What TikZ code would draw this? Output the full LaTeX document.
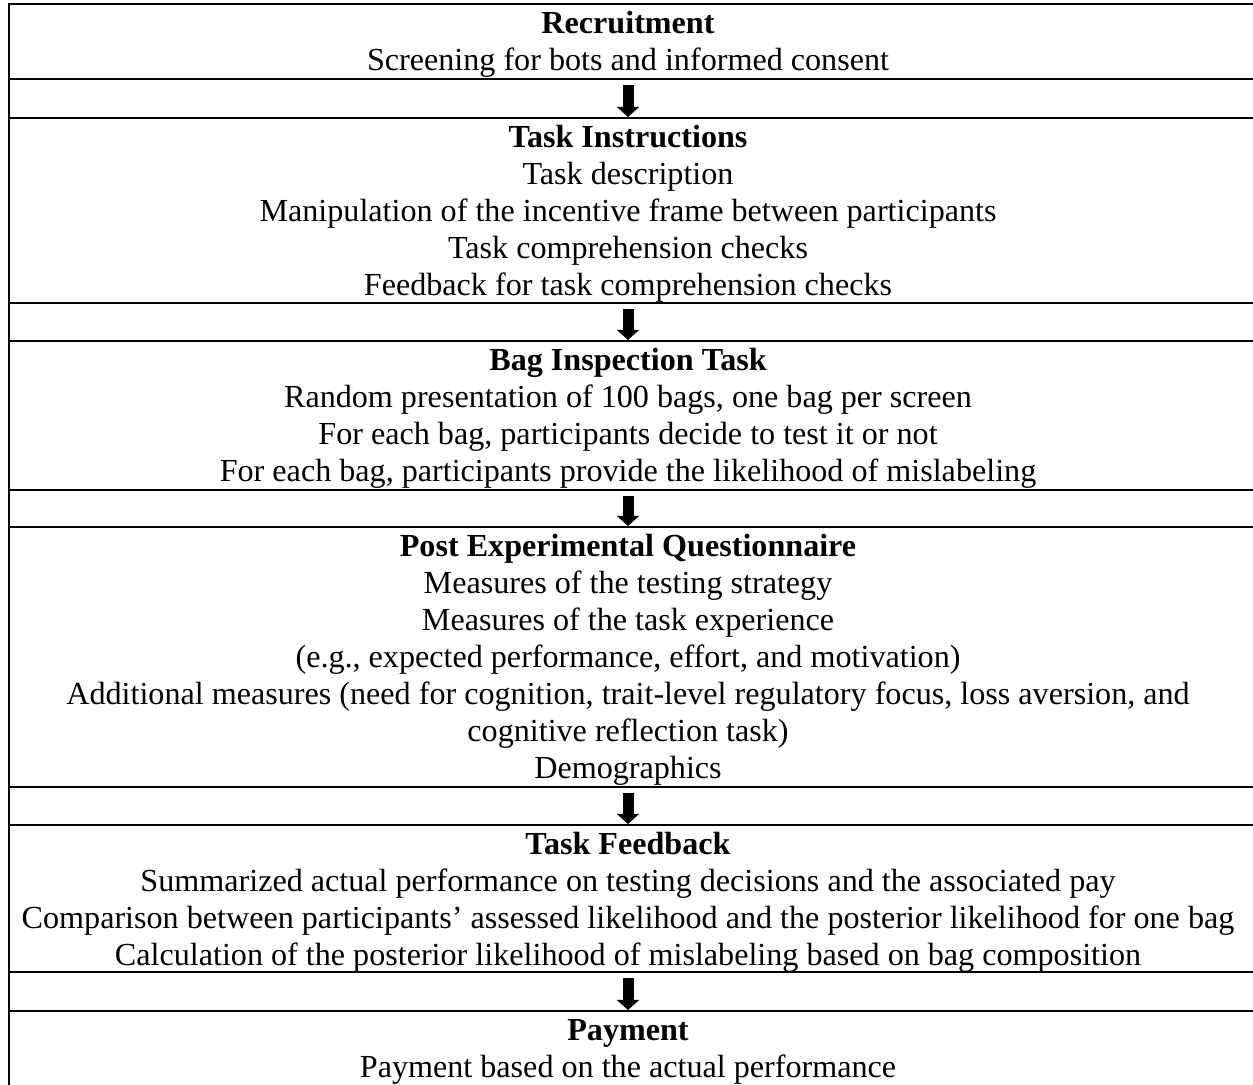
\documentclass[tikz,border=0pt]{standalone}
\usepackage{fontspec}
\setmainfont{Liberation Serif}
\usetikzlibrary{arrows.meta}
\begin{document}
\begin{tikzpicture}[x=0.3735pt,y=-0.3735pt,
  rule/.style={line width=0.75pt,line cap=rect},
  txt/.style={anchor=base,inner sep=0pt,font=\fontsize{12}{13.8}\selectfont},
  hd/.style={txt,font=\fontsize{12}{13.8}\selectfont\bfseries},
  flow/.style={line width=4.1pt,line cap=butt,-{Triangle[width=8.2pt,length=3.8pt]}}]
\useasboundingbox[fill=white] (0,0) rectangle (1253,1084);
% horizontal rules
\foreach \yy in {4,79,118,303,341,490,527,787,825,972,1011}
  \draw[rule] (9,\yy) -- (1260,\yy);
\draw[rule] (9,4) -- (9,1090);
% text rows
\def\bx{628}
\node[hd]  (r1h) at (\bx,33) {Recruitment};
\node[txt] (r1a) at (\bx,70) {Screening for bots and informed consent};
\node[hd]  (r2h) at (\bx,147) {Task Instructions};
\node[txt] (r2a) at (\bx,184) {Task description};
\node[txt] (r2b) at (\bx,221) {Manipulation of the incentive frame between participants};
\node[txt] (r2c) at (\bx,258) {Task comprehension checks};
\node[txt] (r2d) at (\bx,295) {Feedback for task comprehension checks};
\node[hd]  (r3h) at (\bx,370) {Bag Inspection Task};
\node[txt] (r3a) at (\bx,407) {Random presentation of 100 bags, one bag per screen};
\node[txt] (r3b) at (\bx,444) {For each bag, participants decide to test it or not};
\node[txt] (r3c) at (\bx,481) {For each bag, participants provide the likelihood of mislabeling};
\node[hd]  (r4h) at (\bx,556) {Post Experimental Questionnaire};
\node[txt] (r4a) at (\bx,593) {Measures of the testing strategy};
\node[txt] (r4b) at (\bx,630) {Measures of the task experience};
\node[txt] (r4c) at (\bx,667) {(e.g., expected performance, effort, and motivation)};
\node[txt] (r4d) at (\bx,704) {Additional measures (need for cognition, trait-level regulatory focus, loss aversion, and};
\node[txt] (r4e) at (\bx,741) {cognitive reflection task)};
\node[txt] (r4f) at (\bx,778) {Demographics};
\node[hd]  (r5h) at (\bx,854) {Task Feedback};
\node[txt] (r5a) at (\bx,891) {Summarized actual performance on testing decisions and the associated pay};
\node[txt] (r5b) at (\bx,928) {Comparison between participants’ assessed likelihood and the posterior likelihood for one bag};
\node[txt] (r5c) at (\bx,965) {Calculation of the posterior likelihood of mislabeling based on bag composition};
\node[hd]  (r6h) at (\bx,1040) {Payment};
\node[txt] (r6a) at (\bx,1077) {Payment based on the actual performance};
% arrow end points
\coordinate (a1s) at (\bx,85);  \coordinate (a1e) at (\bx,117);
\coordinate (a2s) at (\bx,309); \coordinate (a2e) at (\bx,340);
\coordinate (a3s) at (\bx,496); \coordinate (a3e) at (\bx,526);
\coordinate (a4s) at (\bx,793); \coordinate (a4e) at (\bx,824);
\coordinate (a5s) at (\bx,978); \coordinate (a5e) at (\bx,1010);
\foreach \k in {1,...,5} \draw[flow] (a\k s) -- (a\k e);
\end{tikzpicture}
\end{document}
